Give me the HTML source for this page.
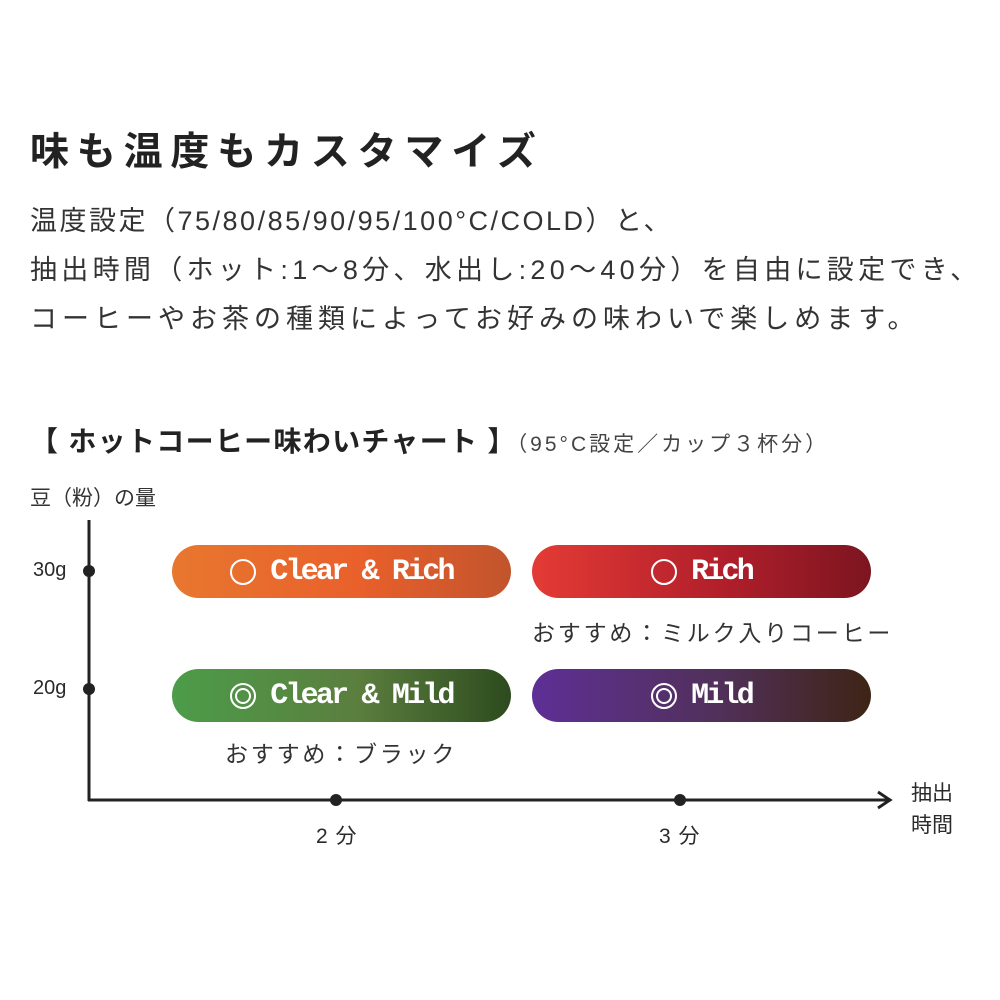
<!DOCTYPE html>
<html><head><meta charset="utf-8"><style>
body{margin:0;width:1000px;height:1000px;background:#fff;position:relative;overflow:hidden;font-family:"Liberation Sans","Noto Sans CJK JP",sans-serif;color:#2a2a2a}
.a{position:absolute;white-space:nowrap}
.p{position:absolute;height:53px;border-radius:27px;color:#fff;font-family:"Liberation Mono",monospace;font-weight:bold;font-size:30px;display:flex;align-items:center;justify-content:center;letter-spacing:-2.8px}
.o{display:inline-block;width:26px;height:26px;border:2.5px solid #fff;border-radius:50%;margin-right:14px;box-sizing:border-box;position:relative}
.oo::after{content:"";position:absolute;left:3px;top:3px;right:3px;bottom:3px;border:2px solid #fff;border-radius:50%}
.dot{position:absolute;width:12px;height:12px;border-radius:50%;background:#222;margin:-6px 0 0 -6px}
.l{position:absolute;left:30px;font-size:27px;color:#333;white-space:nowrap}
</style></head><body>
<div class="a" style="left:30px;top:121px;font-size:39px;font-weight:bold;letter-spacing:7.8px;color:#222">味も温度もカスタマイズ</div>
<div class="l" style="top:199px;letter-spacing:2.5px">温度設定（75/80/85/90/95/100°C/COLD）と、</div>
<div class="l" style="top:248px;letter-spacing:4.3px">抽出時間（ホット:1～8分、水出し:20～40分）を自由に設定でき、</div>
<div class="l" style="top:297px;letter-spacing:5px">コーヒーやお茶の種類によってお好みの味わいで楽しめます。</div>
<div class="a" style="left:30px;top:420px;font-size:28px;font-weight:bold;letter-spacing:1.3px;color:#222">【 ホットコーヒー味わいチャート 】<span style="font-size:21px;font-weight:normal;color:#444;letter-spacing:3px">（95°C設定／カップ３杯分）</span></div>
<div class="a" style="left:30px;top:482px;font-size:21px;color:#333">豆（粉）の量</div>
<svg class="a" style="left:0;top:0" width="1000" height="1000"><line x1="89" y1="520" x2="89" y2="801" stroke="#222" stroke-width="3"/><line x1="88" y1="800" x2="888" y2="800" stroke="#222" stroke-width="3"/><polyline points="878,792 890,800 878,808" fill="none" stroke="#222" stroke-width="3"/></svg>
<div class="dot" style="left:89px;top:571px"></div><div class="dot" style="left:89px;top:689px"></div>
<div class="dot" style="left:336px;top:800px"></div><div class="dot" style="left:680px;top:800px"></div>
<div class="a" style="left:33px;top:559px;font-size:20px">30g</div>
<div class="a" style="left:33px;top:677px;font-size:20px">20g</div>
<div class="a" style="left:316px;top:820px;font-size:21px;letter-spacing:1px">2 分</div>
<div class="a" style="left:659px;top:820px;font-size:21px;letter-spacing:1px">3 分</div>
<div class="a" style="left:911px;top:778px;font-size:21px;line-height:32px">抽出<br>時間</div>
<div class="p" style="left:172px;top:545px;width:339px;background:linear-gradient(90deg,#e8772f,#e9602b 55%,#c2542c)"><span class="o"></span>Clear &amp; Rich</div>
<div class="p" style="left:532px;top:545px;width:339px;background:linear-gradient(90deg,#e43b35,#b21f2b 55%,#7c1520)"><span class="o"></span>Rich</div>
<div class="p" style="left:172px;top:669px;width:339px;background:linear-gradient(90deg,#4c9c4a,#5b7e3e 55%,#2d4b1e)"><span class="o oo"></span>Clear &amp; Mild</div>
<div class="p" style="left:532px;top:669px;width:339px;background:linear-gradient(90deg,#5e2f95,#51305a 55%,#3e2415)"><span class="o oo"></span>Mild</div>
<div class="a" style="left:532px;top:614px;font-size:23px;letter-spacing:2.8px;color:#333">おすすめ：ミルク入りコーヒー</div>
<div class="a" style="left:225px;top:735px;font-size:23px;letter-spacing:2.8px;color:#333">おすすめ：ブラック</div>
</body></html>
